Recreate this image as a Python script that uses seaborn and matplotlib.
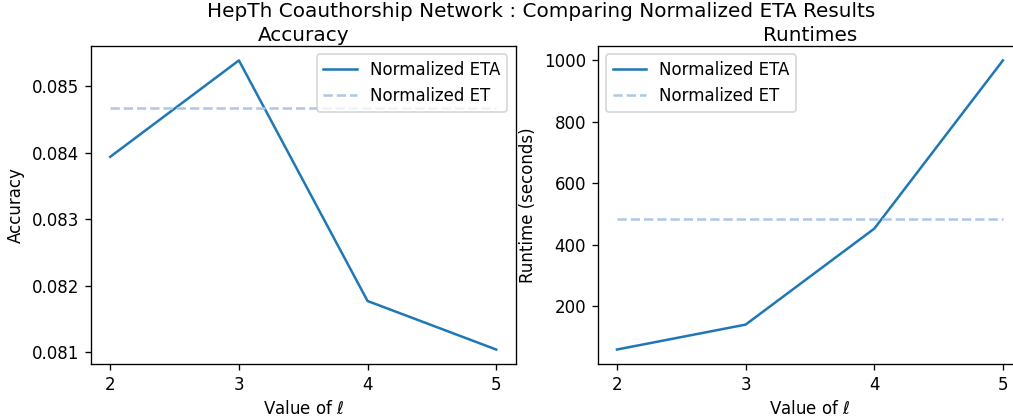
import seaborn as sns
import pandas as pd
import numpy as np
import matplotlib.pyplot as plt

# Values of ell
ell = [2, 3, 4, 5]

# Accuracy for normalized ETA vs the single normalized ET baseline
acc_eta = [0.08394, 0.08539, 0.08177, 0.08104]
acc_et = 0.08467

# Runtimes in seconds
run_eta = [60, 141, 453, 1000]
run_et = 486

eta_color = '#1f77b4'
et_color = '#aec7e8'

fig = plt.figure(figsize=(1014 / 120, 419 / 120), dpi=120)
ax1 = fig.add_axes([0.0897, 0.1313, 0.4187, 0.759])
ax2 = fig.add_axes([0.5894, 0.1313, 0.4187, 0.759])

df_acc = pd.DataFrame({'ell': ell, 'eta': acc_eta, 'et': [acc_et] * len(ell)})
df_run = pd.DataFrame({'ell': ell, 'eta': run_eta, 'et': [run_et] * len(ell)})

# Accuracy plot
sns.lineplot(data=df_acc, x='ell', y='eta', ax=ax1, color=eta_color,
             linewidth=1.5, label='Normalized ETA')
sns.lineplot(data=df_acc, x='ell', y='et', ax=ax1, color=et_color,
             linewidth=1.5, linestyle='--', label='Normalized ET')
ax1.set_title('Accuracy', fontsize=12, pad=3)
ax1.set_xlabel(r'Value of $\ell$')
ax1.set_ylabel('Accuracy')
ax1.set_xticks(ell)
ax1.set_yticks([0.081, 0.082, 0.083, 0.084, 0.085])
ax1.legend(loc='upper right')

# Runtime plot
sns.lineplot(data=df_run, x='ell', y='eta', ax=ax2, color=eta_color,
             linewidth=1.5, label='Normalized ETA')
sns.lineplot(data=df_run, x='ell', y='et', ax=ax2, color=et_color,
             linewidth=1.5, linestyle='--', label='Normalized ET')
ax2.set_title('Runtimes', fontsize=12, pad=3)
ax2.set_xlabel(r'Value of $\ell$')
ax2.set_ylabel('Runtime (seconds)')
ax2.set_xticks(ell)
ax2.legend(loc='upper left')

fig.suptitle('HepTh Coauthorship Network : Comparing Normalized ETA Results',
             x=0.5335, y=0.995, fontsize=12)

plt.savefig('out.png', dpi=120)
